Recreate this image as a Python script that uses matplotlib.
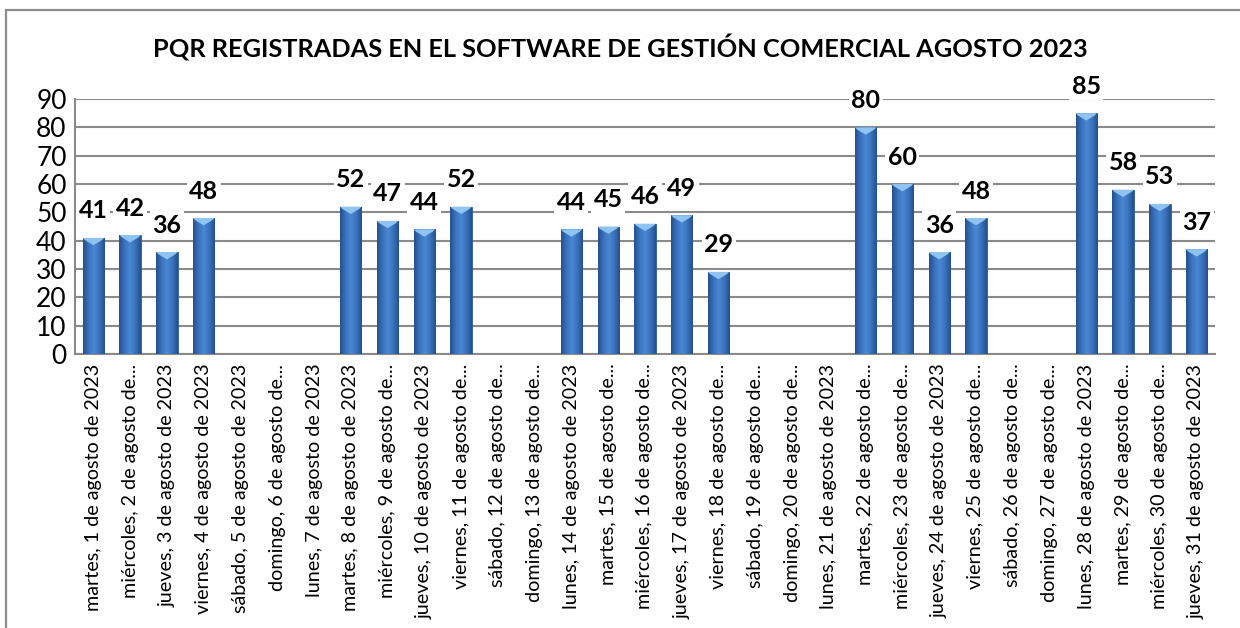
import matplotlib
matplotlib.use("Agg")
import matplotlib.pyplot as plt
import numpy as np
from matplotlib.patches import Rectangle, Polygon
from matplotlib.colors import LinearSegmentedColormap

plt.rcParams['font.family'] = ['Lato', 'DejaVu Sans']

title = "PQR REGISTRADAS EN EL SOFTWARE DE GESTIÓN COMERCIAL AGOSTO 2023"

categories = [
    "martes, 1 de agosto de 2023",
    "miércoles, 2 de agosto de...",
    "jueves, 3 de agosto de 2023",
    "viernes, 4 de agosto de 2023",
    "sábado, 5 de agosto de 2023",
    "domingo, 6 de agosto de...",
    "lunes, 7 de agosto de 2023",
    "martes, 8 de agosto de 2023",
    "miércoles, 9 de agosto de...",
    "jueves, 10 de agosto de 2023",
    "viernes, 11 de agosto de...",
    "sábado, 12 de agosto de...",
    "domingo, 13 de agosto de...",
    "lunes, 14 de agosto de 2023",
    "martes, 15 de agosto de...",
    "miércoles, 16 de agosto de...",
    "jueves, 17 de agosto de 2023",
    "viernes, 18 de agosto de...",
    "sábado, 19 de agosto de...",
    "domingo, 20 de agosto de...",
    "lunes, 21 de agosto de 2023",
    "martes, 22 de agosto de...",
    "miércoles, 23 de agosto de...",
    "jueves, 24 de agosto de 2023",
    "viernes, 25 de agosto de...",
    "sábado, 26 de agosto de...",
    "domingo, 27 de agosto de...",
    "lunes, 28 de agosto de 2023",
    "martes, 29 de agosto de...",
    "miércoles, 30 de agosto de...",
    "jueves, 31 de agosto de 2023",
]

values = [41, 42, 36, 48, None, None, None,
          52, 47, 44, 52, None, None,
          44, 45, 46, 49, 29, None, None, None,
          80, 60, 36, 48, None, None,
          85, 58, 53, 37]

yticks = [0, 10, 20, 30, 40, 50, 60, 70, 80, 90]

fig = plt.figure(figsize=(12.4, 6.28), dpi=100)
fig.patch.set_facecolor('white')

# outer chart frame
fig.add_artist(Rectangle((6 / 1240, -0.05), 1.05, 1 - 10 / 628 + 0.05,
                         transform=fig.transFigure, fill=False,
                         edgecolor='#8c8c8c', linewidth=1.6))

ax = fig.add_axes([75 / 1240, 1 - 354 / 628, (1215 - 75) / 1240, (354 - 99) / 628])

x = np.arange(len(categories))
ax.set_xlim(-0.5, len(categories) - 0.5)
ax.set_ylim(0, 90)

cmap = LinearSegmentedColormap.from_list(
    'bar', ['#24508c', '#3a72bd', '#4a88d4', '#3a72bd', '#24508c'])
grad = np.linspace(0, 1, 64).reshape(1, -1)

bw = 0.58
for xi, v in zip(x, values):
    if v is None:
        continue
    bars = ax.bar(xi, v, width=bw, color='#3a72bd', edgecolor='#2a5a98',
                  linewidth=0.6, zorder=3)
    b = bars[0]
    im = ax.imshow(grad, cmap=cmap, aspect='auto',
                   extent=(b.get_x(), b.get_x() + b.get_width(), 0, v),
                   zorder=3.1, interpolation='bicubic')
    im.set_clip_path(b)
    # bevel highlight at top
    x0, x1 = b.get_x(), b.get_x() + b.get_width()
    tri = Polygon([(x0, v), (x1, v), (x1 - 0.06, v - 0.8),
                   (xi, v - 2.6), (x0 + 0.06, v - 0.8)],
                  closed=True, facecolor='#8fc3f2', edgecolor='none',
                  zorder=3.2)
    ax.add_patch(tri)
    ax.annotate(str(v), xy=(xi, v), xytext=(0, 14), textcoords='offset points',
                ha='center', va='baseline', fontsize=18, fontweight='bold',
                color='black', zorder=5,
                bbox=dict(boxstyle='square,pad=0.1', facecolor='white',
                          edgecolor='none'))

ax.set_yticks(yticks)
ax.set_yticklabels([str(t) for t in yticks], fontsize=19)
ax.yaxis.grid(True, color='#8a8a8a', linewidth=1.5, zorder=0)
ax.set_axisbelow(True)

ax.set_xticks(x)
ax.set_xticklabels(categories, rotation=90, fontsize=14.2, va='top', ha='center')
ax.tick_params(axis='both', length=0)
ax.tick_params(axis='x', pad=7)
ax.tick_params(axis='y', pad=6)

for s in ['top', 'right']:
    ax.spines[s].set_visible(False)
ax.spines['left'].set_color('#8a8a8a')
ax.spines['left'].set_linewidth(1.5)
ax.spines['bottom'].set_color('#8a8a8a')
ax.spines['bottom'].set_linewidth(1.5)

fig.text(0.5, 1 - 48 / 628, title, ha='center', va='center',
         fontsize=18.3, fontweight='bold', color='black')

fig.savefig('out.png', dpi=100, facecolor='white')
